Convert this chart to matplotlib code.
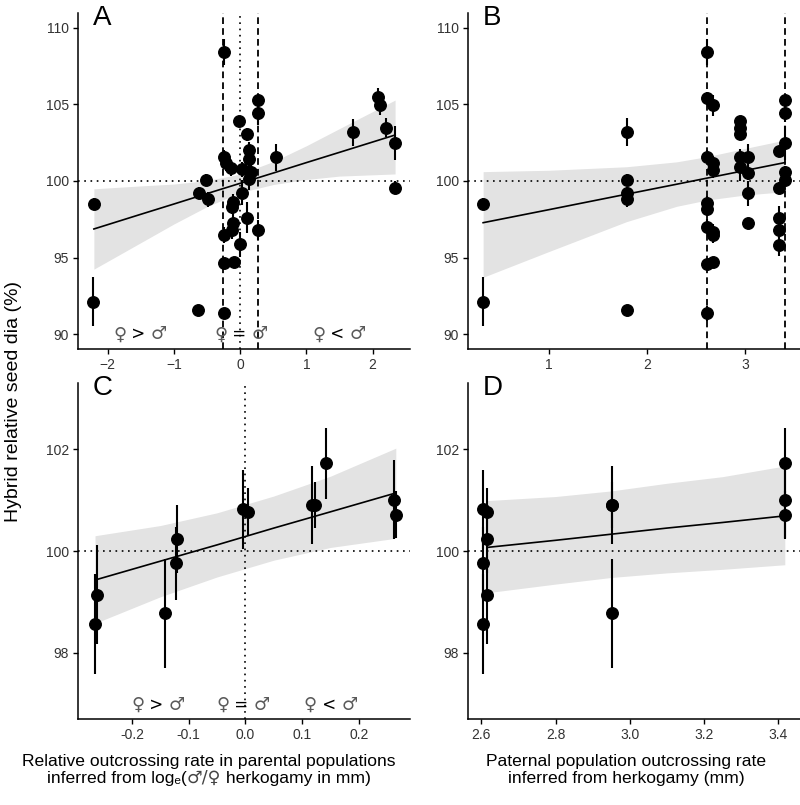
import matplotlib
matplotlib.use("Agg")
import matplotlib.pyplot as plt
from matplotlib.offsetbox import TextArea, HPacker, AnnotationBbox
import numpy as np

plt.rcParams['font.family'] = ['Liberation Sans', 'DejaVu Sans']

# panel A: relative outcrossing (log ratio) vs hybrid seed size
a_x = [-2.21, -2.22, -0.63, -0.62, -0.52, -0.49, -0.25, -0.25, -0.22, -0.14,
       -0.25, -0.24, -0.09, -0.24, -0.13, -0.11, -0.13, -0.11, -0.02, -0.01,
       0.03, 0.03, 0.11, 0.13, 0.13, 0.16, 0.13, 0.11, 0.27, 0.27,
       0.27, 0.54, 1.71, 2.08, 2.11, 2.21, 2.34, 2.34]
a_y = [98.50, 92.13, 91.59, 99.24, 100.07, 98.80, 108.39, 101.59, 101.15, 100.83,
       91.37, 94.63, 94.74, 96.48, 96.80, 97.28, 98.33, 98.65, 103.91, 95.87,
       99.24, 100.76, 103.04, 102.02, 101.43, 100.61, 100.11, 97.61, 105.28, 104.46,
       96.80, 101.54, 103.17, 105.46, 104.93, 103.48, 102.50, 99.57]
a_err = [0.4, 1.6, 0.3, 0.4, 0.4, 0.5, 0.85, 0.4, 0.5, 0.5,
         0.3, 0.3, 0.3, 0.5, 0.6, 0.6, 0.5, 0.5, 0.3, 0.8,
         0.8, 0.5, 0.4, 0.5, 0.7, 0.5, 0.7, 1.0, 0.4, 0.8,
         0.65, 0.9, 0.9, 0.6, 0.6, 0.6, 1.1, 0.4]
a_fit_x = [-2.21, -1.5, -1.0, -0.5, 0.0, 0.5, 1.0, 1.5, 2.34]
a_fit_y = [96.87, 97.83, 98.50, 99.18, 99.85, 100.52, 101.20, 101.87, 103.0]
a_lo = [94.25, 95.98, 97.20, 98.33, 99.25, 99.77, 100.10, 100.32, 100.46]
a_hi = [99.49, 99.68, 99.80, 100.03, 100.45, 101.27, 102.30, 103.42, 105.28]

# panel B: paternal outcrossing vs hybrid seed size
b_x = [0.33, 0.33, 1.79, 1.79, 1.79, 1.79, 1.79,
       2.61, 2.61, 2.61, 2.61, 2.61, 2.61, 2.61, 2.61,
       2.67, 2.67, 2.67, 2.67, 2.67, 2.67,
       2.94, 2.94, 2.94, 2.94, 2.94, 3.03, 3.03, 3.03, 3.03,
       3.40, 3.40, 3.40, 3.40, 3.40, 3.34, 3.34, 3.34, 3.34, 3.34]
b_y = [98.50, 92.13, 103.20, 100.07, 99.24, 98.80, 91.59,
       108.39, 105.39, 101.59, 98.54, 98.20, 97.02, 94.57, 91.37,
       104.93, 101.15, 100.72, 96.70, 96.48, 94.74,
       103.91, 103.43, 103.04, 101.59, 100.93, 101.54, 100.54, 99.20, 97.24,
       105.28, 104.46, 102.50, 100.61, 100.07, 101.98, 99.52, 97.57, 96.80, 95.83]
b_err = [0.4, 1.6, 0.9, 0.4, 0.4, 0.5, 0.3,
         0.85, 0.4, 0.4, 0.5, 0.5, 0.5, 0.3, 0.5,
         0.7, 0.5, 0.5, 0.5, 0.5, 0.3,
         0.3, 0.3, 0.3, 0.5, 0.9, 0.87, 0.5, 0.8, 0.3,
         0.3, 0.6, 1.1, 0.4, 0.4, 0.3, 0.4, 0.8, 0.5, 0.7]
b_fit_x = [0.33, 1.0, 1.79, 2.3, 2.61, 3.0, 3.40]
b_fit_y = [97.28, 98.13, 99.14, 99.79, 100.19, 100.69, 101.2]
b_lo = [93.72, 95.40, 97.35, 98.35, 98.76, 99.09, 99.30]
b_hi = [100.61, 100.70, 100.93, 101.25, 101.59, 102.13, 102.67]

# panels C and D share the same 12 crosses
cd_y = [98.57, 99.14, 98.78, 100.23, 99.76, 100.82, 100.77, 100.90, 100.90, 101.72, 101.01, 100.71]
cd_err = [0.98, 0.97, 1.07, 0.67, 0.72, 0.78, 0.46, 0.77, 0.45, 0.69, 0.77, 0.46]
c_x = [-0.265, -0.262, -0.142, -0.120, -0.123, -0.005, 0.004, 0.118, 0.123, 0.142, 0.261, 0.265]
d_x = [2.604, 2.615, 2.953, 2.615, 2.604, 2.604, 2.615, 2.953, 2.953, 3.418, 3.418, 3.418]

c_fit_x = [-0.265, -0.15, -0.05, 0.05, 0.15, 0.265]
c_fit_y = [99.43, 99.80, 100.12, 100.45, 100.77, 101.14]
c_lo = [98.58, 99.10, 99.49, 99.82, 100.07, 100.25]
c_hi = [100.30, 100.50, 100.75, 101.08, 101.47, 102.02]

d_fit_x = [2.615, 2.8, 2.95, 3.1, 3.25, 3.418]
d_fit_y = [100.07, 100.21, 100.33, 100.45, 100.56, 100.69]
d_lo = [99.18, 99.35, 99.48, 99.57, 99.64, 99.73]
d_hi = [100.99, 101.07, 101.18, 101.33, 101.46, 101.67]

FEMALE, MALE = '\u2640', '\u2642'
sex_ops = ['>', '=', '<']

fig = plt.figure(figsize=(8, 8.05), dpi=100)
W, H = 800, 805
def box(x0, y0, x1, y1):
    return [x0 / W, 1 - y1 / H, (x1 - x0) / W, (y1 - y0) / H]

axA = fig.add_axes(box(78, 13, 410, 349))
axB = fig.add_axes(box(468, 13, 800, 349))
axC = fig.add_axes(box(78, 383, 410, 719))
axD = fig.add_axes(box(468, 383, 800, 719))

dot = (0, (1, 2.75))
dash = (0, (3.7, 2.3))

def panel(ax, x, y, err, fx, fy, lo, hi, letter):
    ax.fill_between(fx, lo, hi, color='#e3e3e3', lw=0, zorder=1)
    ax.axhline(100, color='black', lw=1.2, ls=dot, zorder=2)
    ax.plot(fx, fy, color='black', lw=1.2, zorder=3)
    ax.errorbar(x, y, yerr=err, fmt='o', color='black', ms=8.3,
                elinewidth=1.5, capsize=0, zorder=4)
    for s in ['top', 'right']:
        ax.spines[s].set_visible(False)
    for s in ['left', 'bottom']:
        ax.spines[s].set_linewidth(1.1)
    ax.tick_params(length=3.5, width=1, labelsize=10, labelcolor='#333333', pad=3)
    ax.text(0.045, 1.023, letter, transform=ax.transAxes, fontsize=20,
            ha='left', va='top')

def mixed(parts, xy, xycoords, target):
    # row of text pieces with their own fonts and colours
    areas = [TextArea(t, textprops=p) for t, p in parts]
    row = HPacker(children=areas, align='baseline', pad=0, sep=0)
    ab = AnnotationBbox(row, xy, xycoords=xycoords, frameon=False,
                        box_alignment=(0.5, 0.5), pad=0, zorder=5)
    target.add_artist(ab)

panel(axA, a_x, a_y, a_err, a_fit_x, a_fit_y, a_lo, a_hi, 'A')
panel(axB, b_x, b_y, b_err, b_fit_x, b_fit_y, b_lo, b_hi, 'B')
panel(axC, c_x, cd_y, cd_err, c_fit_x, c_fit_y, c_lo, c_hi, 'C')
panel(axD, d_x, cd_y, cd_err, d_fit_x, d_fit_y, d_lo, d_hi, 'D')

# reference lines
axA.axvline(0, color='black', lw=1.2, ls=dot, zorder=2)
for v in [-0.26, 0.27]:
    axA.axvline(v, color='black', lw=1.3, ls=dash, zorder=2)
for v in [2.61, 3.40]:
    axB.axvline(v, color='black', lw=1.3, ls=dash, zorder=2)
axC.axvline(0, color='black', lw=1.2, ls=dot, zorder=2)

for ax in [axA, axB]:
    ax.set_ylim(89.04, 110.96)
    ax.set_yticks([90, 95, 100, 105, 110])
for ax in [axC, axD]:
    ax.set_ylim(96.7, 103.3)
    ax.set_yticks([98, 100, 102])

axA.set_xlim(-2.45, 2.565)
axA.set_xticks([-2, -1, 0, 1, 2])
axB.set_xlim(0.176, 3.555)
axB.set_xticks([1, 2, 3])
axC.set_xlim(-0.295, 0.29)
axC.set_xticks([-0.2, -0.1, 0.0, 0.1, 0.2])
axC.set_xticklabels(['-0.2', '-0.1', '0.0', '0.1', '0.2'])
axD.set_xlim(2.564, 3.459)
axD.set_xticks([2.6, 2.8, 3.0, 3.2, 3.4])
axD.set_xticklabels(['2.6', '2.8', '3.0', '3.2', '3.4'])

sym = dict(family='DejaVu Sans', fontsize=13, color='#5a5a5a')
op = dict(family='DejaVu Sans', fontsize=12, color='black')
for ax, xs, yv in [(axA, [-1.51, 0.01, 1.49], 90.0), (axC, [-0.154, -0.004, 0.15], 96.98)]:
    for xpos, o in zip(xs, sex_ops):
        mixed([(FEMALE, sym), (' ' + o + ' ', op), (MALE, sym)], (xpos, yv), 'data', ax)

fig.text(14 / W, 1 - 402 / H, 'Hybrid relative seed dia (%)', rotation=90,
         ha='center', va='center', fontsize=14)
lab = dict(fontsize=12.6)
fig.text(209 / W, 1 - 761 / H, 'Relative outcrossing rate in parental populations',
         ha='center', va='center', **lab)
sym_lab = dict(family='DejaVu Sans', fontsize=12.6, color='#444444')
mixed([('inferred from log\u2091(', lab), (MALE + '/' + FEMALE, sym_lab),
       (' herkogamy in mm)', lab)], (209 / W, 1 - 778 / H), 'figure fraction', fig)
fig.text(626 / W, 1 - 761 / H, 'Paternal population outcrossing rate',
         ha='center', va='center', **lab)
fig.text(626 / W, 1 - 778 / H, 'inferred from herkogamy (mm)',
         ha='center', va='center', **lab)

fig.savefig('out.png', dpi=100)
